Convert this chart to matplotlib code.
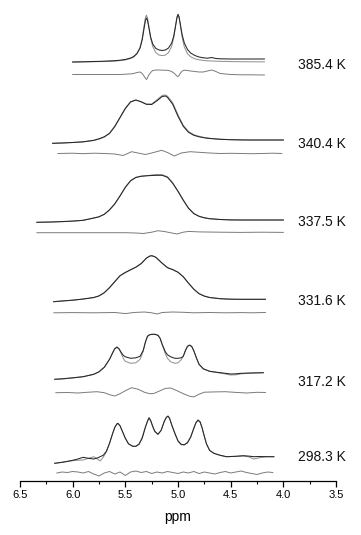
import matplotlib
matplotlib.use("Agg")
import matplotlib.pyplot as plt
from matplotlib.ticker import MultipleLocator, FormatStrFormatter

plt.rcParams['font.family'] = ['Liberation Sans', 'DejaVu Sans']

#
# Spectra: intensity above each trace's own baseline
# (exp = dark line, fit = grey line, res = difference trace underneath)
#

temps = ['385.4 K', '340.4 K', '337.5 K', '331.6 K', '317.2 K', '298.3 K']

ppm_385 = [6.00, 5.90, 5.80, 5.70, 5.60, 5.55, 5.50, 5.45, 5.42, 5.39, 5.36, 5.34, 5.32, 5.31, 5.30, 5.29,
           5.28, 5.26, 5.24, 5.21, 5.18, 5.15, 5.12, 5.09, 5.06, 5.04, 5.02, 5.01, 5.00, 4.99, 4.98, 4.96,
           4.94, 4.91, 4.88, 4.84, 4.80, 4.76, 4.72, 4.68, 4.64, 4.60, 4.50, 4.40, 4.30, 4.18]
exp_385 = [0, 0.2, 0.5, 0.8, 1.3, 1.8, 2.5, 4, 5.5, 8.5, 14, 22, 35, 41, 44, 42,
           36.5, 25, 18, 13.5, 12, 11.5, 12, 14, 19, 26, 38, 44, 47.5, 45, 39, 27,
           19, 12.5, 9, 6.5, 5, 4.2, 3.8, 4.5, 3.5, 3.2, 3, 3, 3, 3]
fit_385 = [0, 0.1, 0.3, 0.5, 0.9, 1.4, 2.1, 3.5, 5.0, 8.1, 14.8, 23.7, 37.5, 44.1, 46.9, 44.2,
           37.8, 24.1, 15.5, 9.3, 6.9, 6.4, 6.9, 9.4, 15.7, 24.6, 38.5, 45.1, 47.8, 45.0, 38.3, 24.2,
           15.1, 8.3, 5.2, 3.2, 2.2, 1.6, 1.2, 1.0, 0.8, 0.65, 0.45, 0.3, 0.2, 0.15]
rppm_385 = ppm_385
res_385 = [0, 0, 0, 0, 0, 0, 0.3, 0.6, 1, 2, 2.5, 1, -2, -3.5, -5, -3.5,
           -1, 2, 4, 4.5, 4.5, 4.3, 4.3, 4, 3, 1.5, -0.5, -1.5, -2, -1, 1, 3.5,
           4.3, 4, 3.5, 3, 2.5, 2.5, 3.5, 4.5, 3, 1, 0, -0.3, -0.3, -0.5]

ppm_340 = [6.19, 6.10, 6.00, 5.90, 5.80, 5.75, 5.70, 5.65, 5.60, 5.55, 5.50, 5.45, 5.40, 5.35, 5.30, 5.25,
           5.20, 5.15, 5.12, 5.10, 5.05, 5.00, 4.95, 4.90, 4.85, 4.80, 4.75, 4.70, 4.60, 4.50, 4.40, 4.30,
           4.20, 4.10, 4.00]
exp_340 = [0, 0.3, 0.8, 1.5, 3, 4.5, 6.5, 10, 17, 26, 35, 41.5, 43.3, 41.5, 39, 38.8,
           42.5, 46.8, 47.3, 46, 39, 27, 17, 11, 8, 6.5, 5.5, 4.8, 4, 3.6, 3.4, 3.3,
           3.3, 3.3, 3.3]
fit_340 = [0, 0.3, 0.8, 1.4, 2.8, 4.2, 6.2, 9.8, 16.5, 25.5, 34.5, 41.2, 43.2, 41.5, 39.2, 39.3,
           43.5, 47.8, 48.3, 47.2, 40.5, 28.5, 18, 11.8, 8.6, 7, 5.8, 5, 4.1, 3.6, 3.4, 3.3,
           3.3, 3.3, 3.3]
rppm_340 = [6.14, 6.00, 5.90, 5.80, 5.70, 5.60, 5.52, 5.44, 5.38, 5.31, 5.25, 5.155, 5.10, 5.035, 4.97,
            4.886, 4.80, 4.70, 4.60, 4.50, 4.40, 4.30, 4.20, 4.10, 4.015]
res_340 = [0, 0.3, -0.2, 0.3, 0, -0.5, -2, 1.8, 0.5, -1, 0.5, 3.2, 1, -2.5, 0.5,
           1.8, 1.2, 0.5, 0, 0.2, 0, -0.2, 0, 0.3, 0]

ppm_337 = [6.34, 6.20, 6.10, 6.00, 5.90, 5.80, 5.75, 5.70, 5.65, 5.60, 5.55, 5.50, 5.45, 5.40, 5.35, 5.30,
           5.25, 5.20, 5.15, 5.10, 5.05, 5.00, 4.95, 4.90, 4.85, 4.80, 4.75, 4.70, 4.60, 4.50, 4.40, 4.30,
           4.20, 4.10, 4.00]
exp_337 = [0, 0.3, 0.7, 1.2, 2, 4.3, 5.5, 8, 12.5, 18.5, 26.5, 35, 41.5, 44.8, 46, 46.5,
           46.8, 47, 47, 45, 39, 31, 22, 14, 8.7, 6, 4.5, 3.6, 2.8, 2.4, 2.3, 2.3,
           2.3, 2.3, 2.3]
fit_337 = [0, 0.3, 0.7, 1.2, 2, 4.2, 5.5, 8, 12.3, 18.3, 26.3, 35, 41.7, 45, 46.2, 46.6,
           47.2, 47.8, 47.6, 45.5, 39.5, 31, 22.5, 14.2, 8.8, 6, 4.5, 3.6, 2.8, 2.4, 2.3, 2.3,
           2.3, 2.3, 2.3]
rppm_337 = [6.34, 6.00, 5.70, 5.50, 5.40, 5.33, 5.25, 5.19, 5.12, 5.05, 5.01, 4.95, 4.90, 4.80, 4.60,
            4.40, 4.20, 4.00]
res_337 = [0, 0, 0, 0, -0.3, -0.8, 0.5, 2, 1, -0.5, -1.3, 0.5, 1.3, 0.8, 0.5, 0.3, 0.5, 0.3]

ppm_331 = [6.18, 6.10, 6.00, 5.90, 5.80, 5.75, 5.70, 5.65, 5.60, 5.55, 5.50, 5.45, 5.40, 5.35, 5.30, 5.27,
           5.25, 5.22, 5.20, 5.15, 5.10, 5.05, 5.00, 4.95, 4.90, 4.85, 4.80, 4.75, 4.70, 4.60, 4.50, 4.40,
           4.30, 4.17]
exp_331 = [0, 0.7, 1.5, 2.7, 4.2, 5.8, 9, 14, 20, 26, 29.3, 32, 34.5, 38, 43.5, 45.5,
           46, 45, 43.5, 38.5, 34, 32, 29.5, 25, 18.5, 12.5, 8, 5.6, 4.2, 3, 2.5, 2.4,
           2.4, 2.4]
fit_331 = [0, 0.7, 1.5, 2.6, 4.1, 5.7, 9, 14.2, 20.3, 26, 29, 31.8, 34.6, 38.3, 43.6, 45.6,
           46, 45, 43.2, 38.3, 34.2, 32.2, 29.4, 24.8, 18.5, 12.5, 8, 5.6, 4.2, 3, 2.5, 2.4,
           2.4, 2.4]
rppm_331 = [6.18, 6.00, 5.80, 5.60, 5.50, 5.42, 5.32, 5.25, 5.20, 5.15, 5.05, 4.95, 4.85, 4.70, 4.55,
            4.40, 4.30, 4.17]
res_331 = [0, 0.2, 0, 0.3, -0.8, 0.3, 0.8, 0, -1.2, 0.3, 0.8, 0.5, 0, 0.3, 0, 0.2, 0, 0.3]

ppm_317 = [6.17, 6.10, 6.00, 5.90, 5.80, 5.75, 5.70, 5.65, 5.62, 5.60, 5.58, 5.56, 5.54, 5.52, 5.50, 5.45,
           5.40, 5.36, 5.33, 5.31, 5.29, 5.27, 5.25, 5.22, 5.19, 5.17, 5.15, 5.12, 5.10, 5.07, 5.03, 5.00,
           4.97, 4.95, 4.93, 4.91, 4.89, 4.87, 4.85, 4.82, 4.80, 4.76, 4.70, 4.63, 4.55, 4.50, 4.45, 4.40,
           4.30, 4.19]
exp_317 = [0, 0.5, 1.5, 2.6, 5, 7.5, 12, 20, 26.5, 30.5, 32, 30.5, 27, 24, 22.5, 21,
           21.5, 23, 29, 37, 43, 44.5, 45, 45, 44, 41, 35, 27.5, 24.5, 22.5, 21, 21,
           21.5, 23, 28.5, 33, 34.3, 33, 28.5, 20, 15, 10.5, 8, 7, 6, 5.3, 5.5, 6,
           6.3, 6.6]
fit_317 = [0, 0.3, 1.3, 2.6, 5, 7.5, 12, 20, 27, 31, 32.5, 30.5, 26, 21, 18, 16,
           16.5, 20, 28, 37, 43, 44.5, 45, 45, 44, 41, 34.5, 25.5, 21, 17.5, 16, 16.5,
           19.5, 23, 29, 33, 33.8, 32.5, 28.5, 20, 15, 10.5, 8, 6.8, 5.3, 4.3, 4.5, 5.5,
           6.3, 6.6]
rppm_317 = [6.16, 6.05, 5.95, 5.85, 5.77, 5.70, 5.65, 5.60, 5.55, 5.50, 5.44, 5.38, 5.32, 5.27, 5.23,
            5.18, 5.12, 5.07, 5.01, 4.95, 4.89, 4.85, 4.80, 4.75, 4.65, 4.55, 4.45, 4.35, 4.25, 4.17]
res_317 = [0, 0.2, -0.3, 0.5, 1, 0, -2, -3.3, -1, 2, 5, 3.5, 0.5, -1, -0.8,
           1.5, 4.3, 4.7, 2, -1, -3.5, -4.2, -1.5, 0.5, 0.8, 1, 0.3, -0.3, 0.4, 0.2]

ppm_298 = [6.17, 6.10, 6.03, 5.96, 5.90, 5.85, 5.80, 5.76, 5.74, 5.71, 5.68, 5.65, 5.62, 5.60, 5.58, 5.57,
           5.55, 5.53, 5.50, 5.47, 5.43, 5.40, 5.37, 5.34, 5.31, 5.29, 5.275, 5.26, 5.24, 5.22, 5.19, 5.16,
           5.13, 5.11, 5.095, 5.08, 5.06, 5.03, 5.00, 4.97, 4.94, 4.91, 4.88, 4.85, 4.83, 4.81, 4.79, 4.77,
           4.75, 4.73, 4.70, 4.66, 4.60, 4.54, 4.45, 4.38, 4.33, 4.28, 4.23, 4.16, 4.09]
exp_298 = [0, 1, 2.3, 4, 6, 5, 4.3, 5.5, 6.6, 8, 12, 20, 30, 36, 39.5, 40,
           37.5, 32.5, 25, 19.5, 17, 17, 19, 25, 36, 42, 45.6, 43, 37, 32, 29, 33,
           42, 46, 47.3, 45, 38.5, 30, 22.5, 19, 18.5, 20.5, 26, 35, 40.5, 43.3, 41.5, 35,
           27, 19.5, 13, 10, 8, 6.6, 7, 7.6, 7.2, 6.6, 6.8, 6.6, 6.6]
fit_298 = [0, 1, 2.3, 3, 3.3, 5, 6.6, 4, 2.3, 6, 11.5, 20, 30, 36, 39, 39.5,
           37.5, 32.5, 25, 19.5, 17, 17, 19.5, 26, 36, 42, 45, 42.5, 36.5, 31.5, 29, 33,
           42, 46, 46.8, 45, 38.5, 30, 22, 18.5, 18.5, 21, 26.5, 35, 40.5, 43, 41, 35,
           27, 19.5, 13, 10, 8, 6.6, 7, 7.3, 6.5, 4.3, 5.5, 6.6, 6.6]
rppm_298 = [6.15, 6.10, 6.05, 6.00, 5.95, 5.90, 5.85, 5.80, 5.75, 5.70, 5.65, 5.60, 5.55, 5.50, 5.45,
            5.40, 5.35, 5.30, 5.25, 5.20, 5.15, 5.10, 5.05, 5.00, 4.95, 4.90, 4.85, 4.80, 4.75, 4.70,
            4.65, 4.60, 4.55, 4.50, 4.45, 4.40, 4.35, 4.30, 4.25, 4.20, 4.15, 4.10]
res_298 = [0, 1, 0.5, 1.5, 1, 0, 1.5, -1, -3, 0, 1.5, -1, 1, -2.5, 1,
           2, 0.5, 1.5, -0.5, 1, 0, 1.5, 0.5, -0.5, 1, 0, 1.5, -0.5, 1, 0,
           -1, 0.5, 1.5, 0, 1, 2, 0.5, -0.5, -1.5, 0, 1, 0.5]

spectra = [
    (ppm_385, exp_385, fit_385, rppm_385, res_385),
    (ppm_340, exp_340, fit_340, rppm_340, res_340),
    (ppm_337, exp_337, fit_337, rppm_337, res_337),
    (ppm_331, exp_331, fit_331, rppm_331, res_331),
    (ppm_317, exp_317, fit_317, rppm_317, res_317),
    (ppm_298, exp_298, fit_298, rppm_298, res_298),
]

#
# Stacking layout (vertical offsets of each trace, same units as intensity)
#

main_base = [419, 337.7, 258.7, 179.3, 101.7, 17.7]
res_base = [406.5, 327.5, 248.3, 168.2, 88.3, 8]
label_y = [416, 337, 258.5, 180.3, 98.7, 23.7]
label_x = 3.86

#
# Figure and axes
#

W, H = 361, 535
fig = plt.figure(figsize=(W / 100.0, H / 100.0), dpi=100)
ax = fig.add_axes([20 / W, 54 / H, 316 / W, 481 / H])

for i, (ppm, exp, fit, rppm, res) in enumerate(spectra):
    ax.plot(ppm, [v + main_base[i] for v in fit], color='#939393', lw=0.75)
    ax.plot(ppm, [v + main_base[i] for v in exp], color='#262626', lw=0.75)
    ax.plot(rppm, [v + res_base[i] for v in res], color='#7a7a7a', lw=0.7)
    ax.text(label_x, label_y[i], temps[i], fontsize=10, ha='left', va='center', color='#111111')

ax.set_xlim(6.5, 3.5)
ax.set_ylim(0, 481)

for side in ['left', 'right', 'top']:
    ax.spines[side].set_visible(False)
ax.spines['bottom'].set_linewidth(0.9)
ax.set_yticks([])

ax.xaxis.set_major_locator(MultipleLocator(0.5))
ax.xaxis.set_minor_locator(MultipleLocator(0.25))
ax.xaxis.set_major_formatter(FormatStrFormatter('%.1f'))
ax.tick_params(axis='x', which='major', direction='out', length=4, width=0.9, pad=2.5, labelsize=8)
ax.tick_params(axis='x', which='minor', direction='out', length=2.5, width=0.8)

fig.text(178 / W, 1 - 517 / H, 'ppm', fontsize=10, ha='center', va='center')

fig.savefig('out.png', dpi=100)
